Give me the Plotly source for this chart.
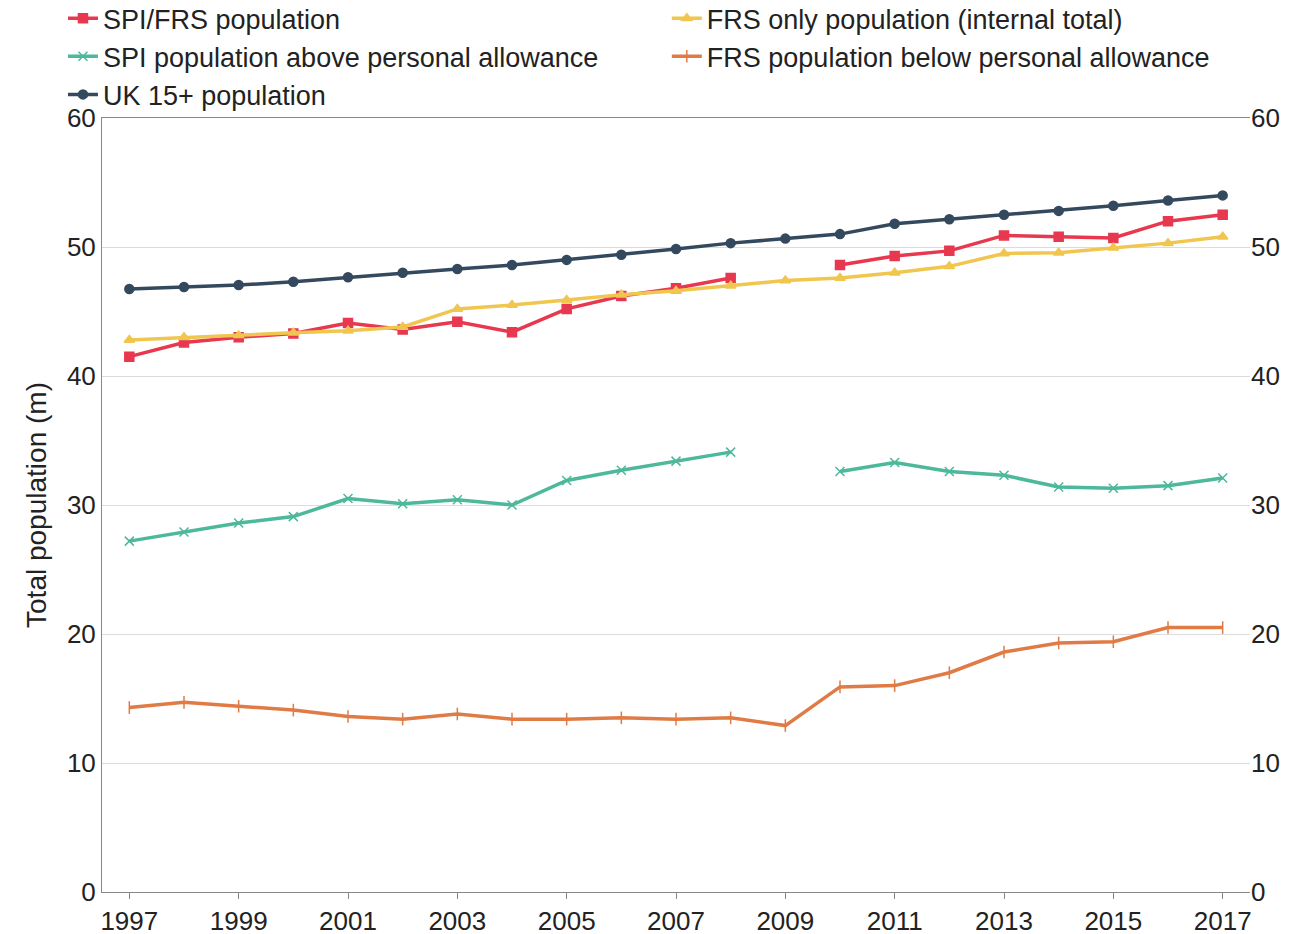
import plotly.graph_objects as go

years = list(range(1997, 2018))
uk15 = [46.75, 46.9, 47.05, 47.3, 47.65, 48.0, 48.3, 48.6, 49.0, 49.4, 49.85, 50.3, 50.65, 51.0, 51.8, 52.15, 52.5, 52.8, 53.2, 53.6, 54.0]
spi_frs = [41.5, 42.6, 43.0, 43.3, 44.1, 43.6, 44.2, 43.4, 45.2, 46.2, 46.8, 47.6, None, 48.6, 49.3, 49.7, 50.9, 50.8, 50.7, 52.0, 52.5]
frs_only = [42.8, 43.0, 43.15, 43.35, 43.5, 43.8, 45.2, 45.5, 45.9, 46.3, 46.6, 47.0, 47.4, 47.6, 48.0, 48.5, 49.5, 49.55, 49.95, 50.3, 50.8]
spi_above = [27.2, 27.9, 28.6, 29.1, 30.5, 30.1, 30.4, 30.0, 31.9, 32.7, 33.4, 34.1, None, 32.6, 33.3, 32.6, 32.3, 31.4, 31.3, 31.5, 32.1]
frs_below = [14.3, 14.7, 14.4, 14.1, 13.6, 13.4, 13.8, 13.4, 13.4, 13.5, 13.4, 13.5, 12.9, 15.9, 16.0, 17.0, 18.6, 19.3, 19.4, 20.5, 20.5]

# name, values, colour, marker, legend column
series = [
    ("SPI/FRS population", spi_frs, "#e8384f", "square", "legend"),
    ("SPI population above personal allowance", spi_above, "#4db89a", "x-thin", "legend"),
    ("UK 15+ population", uk15, "#34495e", "circle", "legend"),
    ("FRS only population (internal total)", frs_only, "#f0c64f", "triangle-up", "legend2"),
    ("FRS population below personal allowance", frs_below, "#e07b45", "line-ns", "legend2"),
]

fig = go.Figure()
for name, vals, col, sym, leg in series:
    fig.add_trace(go.Scatter(
        x=years, y=vals, name=name, mode="lines+markers", legend=leg,
        line=dict(color=col, width=3.5),
        marker=dict(symbol=sym, size=9, color=col, line=dict(color=col, width=1.5)),
    ))
# invisible trace to drive the right-hand axis
fig.add_trace(go.Scatter(x=years, y=uk15, yaxis="y2", showlegend=False,
                         mode="lines", line=dict(width=0), hoverinfo="skip"))

axis_font = dict(size=26, color="#222")
leg_style = dict(yanchor="top", y=1.16, xanchor="left", font=dict(size=27),
                 bgcolor="rgba(0,0,0,0)", tracegroupgap=0)
fig.update_layout(
    width=1304, height=934,
    paper_bgcolor="white", plot_bgcolor="white",
    font=dict(family="Liberation Sans, Arial, sans-serif", size=26, color="#222"),
    margin=dict(l=94, r=62, t=110, b=50, autoexpand=False),
    legend=dict(x=-0.034, **leg_style),
    legend2=dict(x=0.492, **leg_style),
    xaxis=dict(range=[1996.5, 2017.5], tickmode="array", tickvals=years[::2],
               showgrid=False, showline=True, linecolor="#888", mirror=True,
               ticks="outside", ticklen=6, tickcolor="#888", tickfont=axis_font),
    yaxis=dict(range=[0, 60], dtick=10, showgrid=True, gridcolor="#dcdcdc",
               showline=True, linecolor="#888", ticks="", tickfont=axis_font,
               title=dict(text="Total population (m)", font=dict(size=28), standoff=12),
               zeroline=False),
    yaxis2=dict(range=[0, 60], dtick=10, overlaying="y", side="right",
                showgrid=False, ticks="", tickfont=axis_font, showline=False),
)
fig.write_html("out.html")
